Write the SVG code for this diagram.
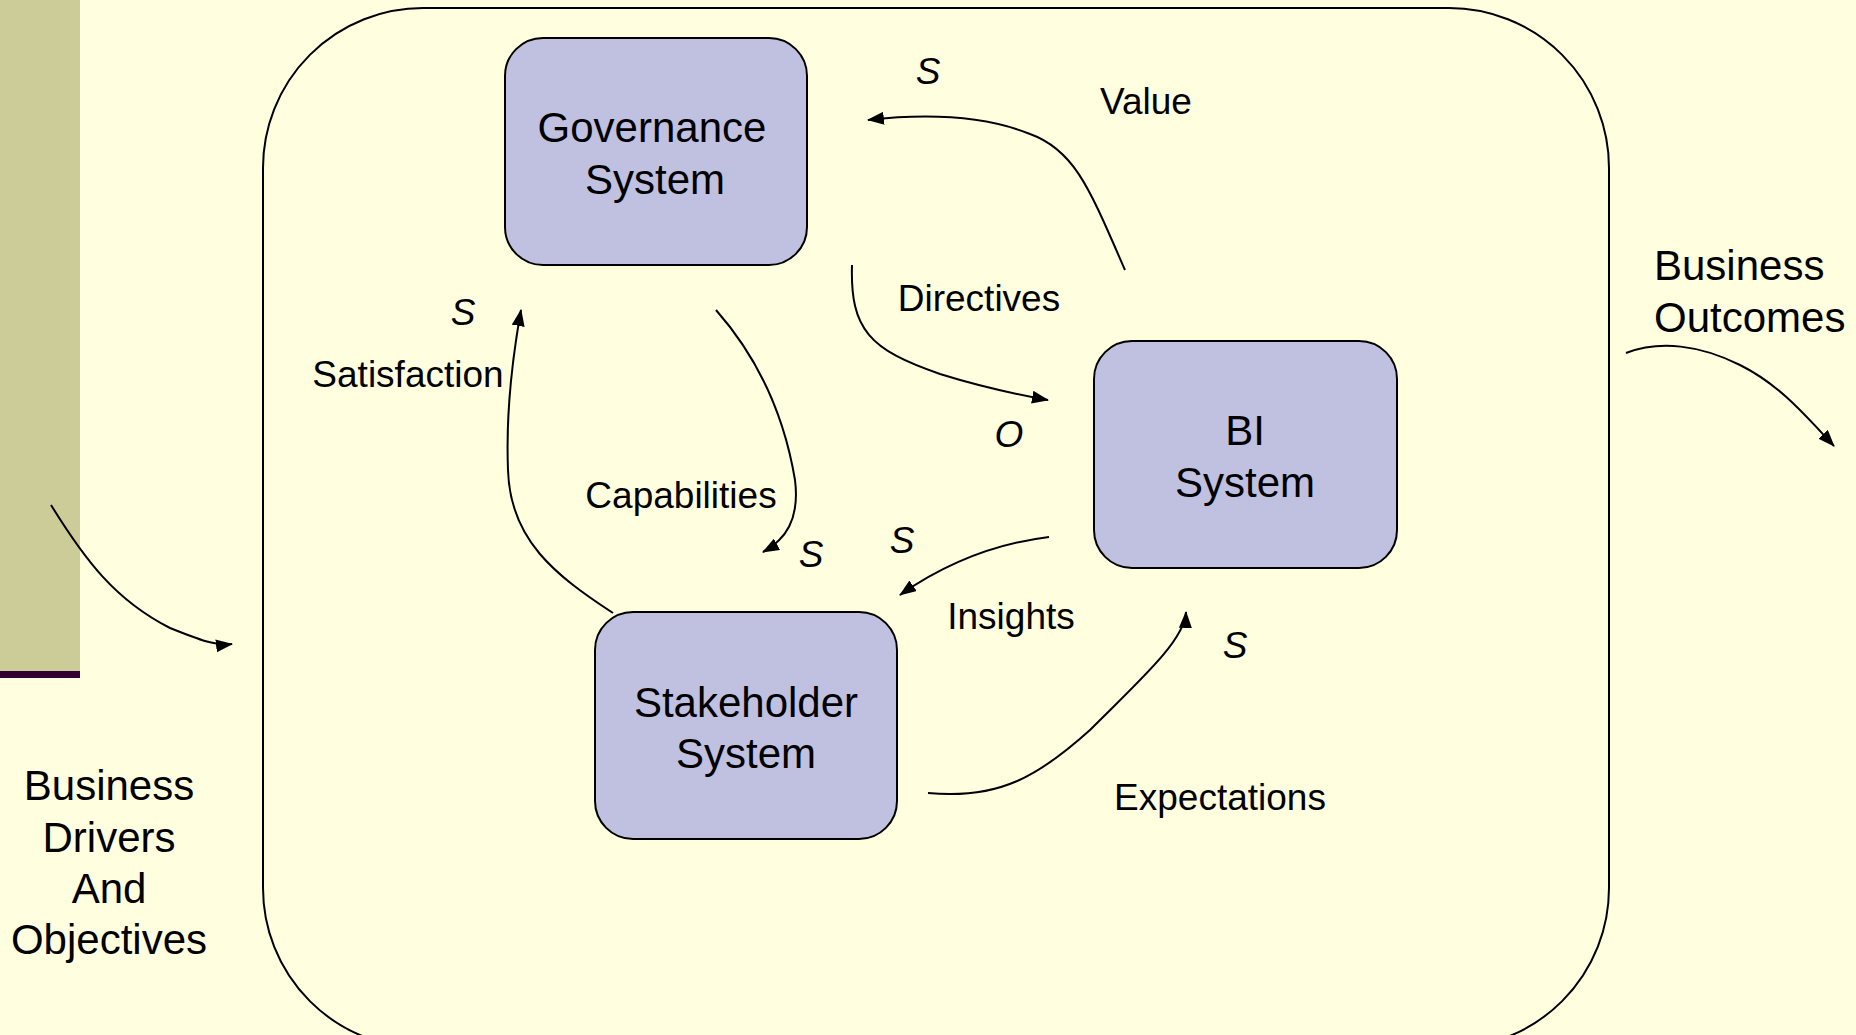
<svg xmlns="http://www.w3.org/2000/svg" width="1856" height="1035" viewBox="0 0 1856 1035">
<style>
.node rect{fill:#C0C0E0;stroke:#000;stroke-width:2}
.nt{font-family:"Liberation Sans",Arial,sans-serif;font-size:42px;fill:#000;text-anchor:middle}
.ns{font-family:"Liberation Sans",Arial,sans-serif;font-size:42px;fill:#000;text-anchor:start}
.lb{font-family:"Liberation Sans",Arial,sans-serif;font-size:37px;fill:#000;text-anchor:middle}
.it{font-family:"Liberation Sans",Arial,sans-serif;font-size:37px;font-style:italic;fill:#000;text-anchor:middle}
.conn path{fill:none;stroke:#000;stroke-width:2;marker-end:url(#ah)}
</style>
<defs>
<marker id="ah" markerWidth="17" markerHeight="13" refX="16" refY="6.5" orient="auto" markerUnits="userSpaceOnUse">
<path d="M0,0 L17,6.5 L0,13 Z" fill="#000"/>
</marker>
</defs>
<rect x="0" y="0" width="1856" height="1035" fill="#FFFFE0"/>
<rect x="0" y="0" width="80" height="671" fill="#CCCC99"/>
<rect x="0" y="671" width="80" height="7" fill="#330033"/>
<rect x="263" y="8" width="1346" height="1040" rx="160" ry="160" fill="none" stroke="#000" stroke-width="2"/>

<g id="governance" class="node">
<rect x="505" y="38" width="302" height="227" rx="38" ry="38"/>
<text class="nt" x="652" y="142">Governance</text>
<text class="nt" x="655" y="194">System</text>
</g>
<g id="bi" class="node">
<rect x="1094" y="341" width="303" height="227" rx="38" ry="38"/>
<text class="nt" x="1245" y="445">BI</text>
<text class="nt" x="1245" y="497">System</text>
</g>
<g id="stakeholder" class="node">
<rect x="595" y="612" width="302" height="227" rx="38" ry="38"/>
<text class="nt" x="746" y="717">Stakeholder</text>
<text class="nt" x="746" y="768">System</text>
</g>

<g id="connectors" class="conn">
<path d="M1125,270 C1090,190 1075,150 1030,134 C990,118 940,112 868,120"/>
<path d="M852,265 C850,330 870,350 940,374 C985,388 1020,395 1048,400"/>
<path d="M716,310 C760,360 785,420 795,480 C800,520 785,540 763,552"/>
<path d="M613,613 C555,575 510,540 508,470 C506,420 512,360 521,310"/>
<path d="M1049,537 C1000,543 950,560 900,595"/>
<path d="M928,793 C1000,800 1040,775 1090,730 C1140,680 1185,640 1186,612"/>
<path d="M1626,353 C1660,340 1700,345 1740,365 C1780,385 1805,415 1834,446"/>
<path d="M51,505 C85,560 115,600 170,628 C200,640 215,646 232,644"/>
</g>

<g id="labels">
<text class="it" x="928" y="84">S</text>
<text class="lb" x="1146" y="114">Value</text>
<text class="lb" x="979" y="311">Directives</text>
<text class="it" x="463" y="325">S</text>
<text class="lb" x="408" y="387">Satisfaction</text>
<text class="it" x="1009" y="447">O</text>
<text class="lb" x="681" y="508">Capabilities</text>
<text class="it" x="811" y="567">S</text>
<text class="it" x="902" y="553">S</text>
<text class="lb" x="1011" y="629">Insights</text>
<text class="it" x="1235" y="658">S</text>
<text class="lb" x="1220" y="810">Expectations</text>
<text class="ns" x="1654" y="280">Business</text>
<text class="ns" x="1654" y="332">Outcomes</text>
<text class="nt" x="109" y="800">Business</text>
<text class="nt" x="109" y="852">Drivers</text>
<text class="nt" x="109" y="903">And</text>
<text class="nt" x="109" y="954">Objectives</text>
</g>
</svg>
